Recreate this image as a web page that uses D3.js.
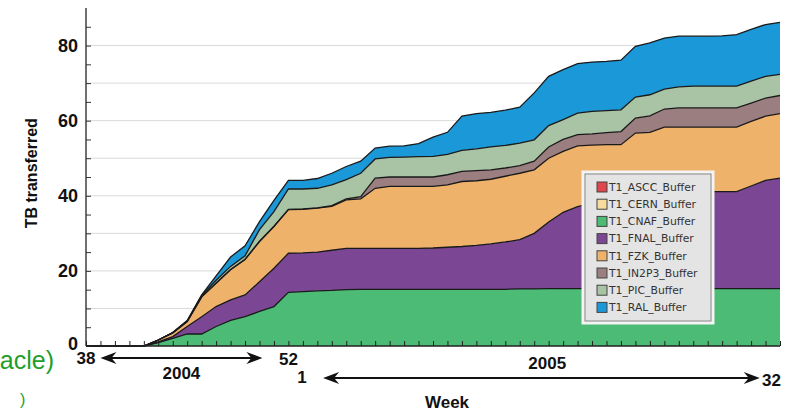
<!DOCTYPE html>
<html><head><meta charset="utf-8">
<script src="https://cdn.jsdelivr.net/npm/d3@7"></script>
<style>
html,body{margin:0;padding:0;background:#fff;}
svg{display:block;}
</style></head>
<body>
<svg id="chart" width="790" height="411"></svg>
<script>
// ---- data ----
const weeks = [38,39,40,41,42,43,44,45,46,47,48,49,50,51,52,
  1,2,3,4,5,6,7,8,9,10,11,12,13,14,15,16,17,18,19,20,21,22,23,24,25,26,27,28,29,30,31,32,33,34];
const seriesNames = ["T1_ASCC_Buffer","T1_CERN_Buffer","T1_CNAF_Buffer","T1_FNAL_Buffer","T1_FZK_Buffer","T1_IN2P3_Buffer","T1_PIC_Buffer","T1_RAL_Buffer"];
const seriesColors = ["#e0474c","#f6dd9e","#4cbb75","#7b4794","#efb26b","#9b7e80","#a9c4a4","#1b98d8"];
const ascc  = [0,0,0,0,0,0,0,0,0,0,0,0,0,0,0,0,0,0,0,0,0,0,0,0,0,0,0,0,0,0,0,0,0,0,0,0,0,0,0,0,0,0,0,0,0,0,0,0,0];
const cern  = [0,0,0,0,0,0,0,0,0,0,0,0,0,0,0,0,0,0,0,0,0,0,0,0,0,0,0,0,0,0,0,0,0,0,0,0,0,0,0,0,0,0,0,0,0,0,0,0,0];
const cnaf  = [0,0,0,0,0,0.9,2.0,3.2,3.2,5.2,6.8,7.8,9.2,10.5,14.3,14.5,14.7,14.8,15.0,15.1,15.1,15.1,15.1,15.1,15.1,15.1,15.1,15.1,15.1,15.1,15.2,15.2,15.3,15.3,15.3,15.3,15.3,15.3,15.3,15.3,15.3,15.3,15.3,15.3,15.3,15.3,15.3,15.3,15.3];
const fnal  = [0,0,0,0,0,0.2,0.5,2.0,4.6,5.3,5.5,5.8,7.9,10.2,10.4,10.3,10.3,10.7,11.0,10.9,10.9,10.9,10.9,10.9,11.0,11.2,11.4,11.7,12.1,12.6,13.1,14.8,17.7,20.3,21.8,22.7,23.5,24.2,24.7,25.2,25.5,25.7,25.8,25.8,25.8,25.8,27.3,28.8,29.4];
const fzk   = [0,0,0,0,0,0.5,1.0,1.3,5.3,6.2,8.0,9.4,10.7,11.1,11.6,11.6,11.7,11.7,12.9,13.2,16.0,16.5,16.5,16.5,16.4,16.6,17.3,17.2,17.2,17.5,17.7,16.9,17.0,16.2,16.2,15.5,14.8,14.1,16.7,16.4,17.5,17.3,17.2,17.2,17.2,17.2,17.2,17.1,17.2];
const in2p3 = [0,0,0,0,0,0,0,0,0,0.1,0.1,0.1,0.1,0.1,0.1,0.1,0.1,0.2,0.3,0.6,2.7,2.5,2.5,2.5,2.5,2.7,2.7,2.7,2.5,2.2,2.0,2.3,3.0,3.2,3.0,3.0,3.2,3.5,4.0,4.4,4.8,5.1,5.1,5.1,5.1,5.1,4.9,4.8,4.8];
const pic   = [0,0,0,0,0,0,0.1,0.2,0.3,0.7,0.8,0.9,3.1,3.9,5.4,5.3,5.2,5.5,5.1,6.2,5.1,5.2,5.3,5.4,5.5,5.4,5.6,5.8,6.1,6.0,6.0,5.7,5.7,5.3,5.7,6.0,5.9,5.8,5.6,5.6,5.3,5.6,5.8,5.8,5.8,5.8,5.8,5.8,5.6];
const ral   = [0,0,0,0,0,0,0,0.1,0.2,1.2,2.5,2.7,2.1,3.0,2.3,2.3,2.6,3.1,3.5,3.2,2.9,3.0,3.0,3.5,5.1,5.9,9.1,9.4,9.2,9.4,9.6,12.5,13.1,13.3,13.2,13.1,13.1,13.2,13.5,13.8,13.6,13.5,13.3,13.3,13.4,13.7,13.8,13.8,13.9];
const yTickLabels = [0,20,40,60,80];

// ---- build table ----
const cols = [ascc,cern,cnaf,fnal,fzk,in2p3,pic,ral];
const table = weeks.map((w,i)=>{
  const row = {i:i, week:w};
  seriesNames.forEach((n,k)=>row[n]=cols[k][i]);
  return row;
});

const svg = d3.select("#chart");
const L = 86, R = 780, T = 8, B = 346;
const x = d3.scaleLinear().domain([0, weeks.length-1]).range([L, R]);
const y = d3.scaleLinear().domain([0, 90]).range([B, T]);
const color = d3.scaleOrdinal().domain(seriesNames).range(seriesColors);

// gridlines
svg.append("g").selectAll("line").data(d3.range(10, 90, 10)).join("line")
  .attr("x1", L).attr("x2", R).attr("y1", d=>y(d)).attr("y2", d=>y(d))
  .attr("stroke", "#d9d9d9").attr("stroke-width", 1);

// stacked areas
const stack = d3.stack().keys(seriesNames);
const layers = stack(table);
const area = d3.area().x(d=>x(d.data.i)).y0(d=>y(d[0])).y1(d=>y(d[1]));
const topLine = d3.line().x(d=>x(d.data.i)).y(d=>y(d[1]));
svg.append("g").selectAll("path").data(layers).join("path")
  .attr("d", area).attr("fill", d=>color(d.key));
svg.append("g").selectAll("path").data(layers.filter(l=>d3.max(l,d=>d[1]-d[0])>0)).join("path")
  .attr("d", topLine).attr("fill","none").attr("stroke","#1a1a1a").attr("stroke-width",1.3);

// axes
const fontB = "'Liberation Sans', Arial, Helvetica, sans-serif";
const yAxis = d3.axisLeft(y).tickValues(d3.range(0, 90, 5)).tickSize(-5).tickFormat("");
svg.append("g").attr("transform", `translate(${L},0)`).call(yAxis)
  .call(g=>g.select(".domain").attr("stroke","#222").attr("stroke-width",1.3).attr("d", `M0,${T}V${B}`))
  .call(g=>g.selectAll(".tick line").attr("stroke","#333"));
svg.append("g").selectAll("text").data(yTickLabels).join("text")
  .attr("x", L-8).attr("y", d=>y(d)).attr("dy", d=> d===0 ? "0.2em" : "0.36em")
  .attr("text-anchor","end").attr("font-family",fontB).attr("font-weight","bold")
  .attr("font-size",18).attr("fill","#111").text(d=>d);

const xAxis = d3.axisBottom(x).tickValues(d3.range(0, weeks.length)).tickSize(-5).tickFormat("");
svg.append("g").attr("transform", `translate(0,${B})`).call(xAxis)
  .call(g=>g.select(".domain").attr("stroke","#222").attr("stroke-width",1.3).attr("d", `M${L},0H${R}`))
  .call(g=>g.selectAll(".tick line").attr("stroke","#222"));

// y title
svg.append("text").attr("transform", `translate(37,${y(46)}) rotate(-90)`)
  .attr("text-anchor","middle").attr("font-family",fontB).attr("font-weight","bold")
  .attr("font-size",16).attr("fill","#111").text("TB transferred");

// week labels & arrows
function arrow(x1, x2, yy){
  const g = svg.append("g");
  g.append("line").attr("x1",x1+10).attr("x2",x2-10).attr("y1",yy).attr("y2",yy)
    .attr("stroke","#111").attr("stroke-width",2);
  g.append("path").attr("d",`M${x1},${yy}L${x1+16},${yy-6}L${x1+11},${yy}L${x1+16},${yy+6}Z`).attr("fill","#111");
  g.append("path").attr("d",`M${x2},${yy}L${x2-16},${yy-6}L${x2-11},${yy}L${x2-16},${yy+6}Z`).attr("fill","#111");
}
const idxOf = (w, after)=> weeks.indexOf(w, after||0);
const i38 = idxOf(38), i52 = idxOf(52), i1 = idxOf(1), i32 = idxOf(32);
arrow(x(i38+1), x(i52-1.8), 358);
arrow(x(i1+1.4), x(i32+0.6), 378);
function lbl(txt, xx, yy, size, anchor){
  svg.append("text").attr("x",xx).attr("y",yy).attr("text-anchor",anchor||"middle")
    .attr("font-family",fontB).attr("font-weight","bold").attr("font-size",size).attr("fill","#111").text(txt);
}
lbl(weeks[i38], x(i38), 364, 17);
lbl(weeks[i52], x(i52), 365, 17);
lbl("2004", x(6.6), 379, 17);
lbl(weeks[i1], x(i1)-1, 383, 17);
lbl("2005", x(31.9), 369, 17);
lbl(weeks[i32], x(i32)+11, 386, 17, "start");
lbl("Week", 447, 408, 17);

// stray slide text at left
svg.append("text").attr("x",54).attr("y",369).attr("text-anchor","end")
  .attr("font-family","'Liberation Sans', Arial, sans-serif").attr("font-size",25).attr("fill","#1f9e2a").text("acle)");
svg.append("text").attr("x",20).attr("y",405)
  .attr("font-family","'Liberation Sans', Arial, sans-serif").attr("font-size",16).attr("fill","#1f9e2a").text(")");

// legend
const lg = svg.append("g").attr("transform","translate(583,172)");
lg.append("rect").attr("x",0).attr("y",0).attr("width",130).attr("height",151)
  .attr("fill","#e4e4e4").attr("stroke","#f4f4f4").attr("stroke-width",3);
lg.append("rect").attr("x",2).attr("y",2).attr("width",126).attr("height",147)
  .attr("fill","none").attr("stroke","#8a8a8a").attr("stroke-width",1);
const items = lg.selectAll("g.item").data(seriesNames).join("g").attr("class","item")
  .attr("transform",(d,i)=>`translate(14,${15 + i*17.2})`);
items.append("rect").attr("x",0).attr("y",-5).attr("width",10).attr("height",10)
  .attr("fill",d=>color(d)).attr("stroke","#444").attr("stroke-width",1);
items.append("text").attr("x",12).attr("y",0).attr("dy","0.36em")
  .attr("font-family","'DejaVu Sans', Verdana, sans-serif").attr("font-size",10.8).attr("fill","#333").text(d=>d);
</script>
</body></html>
